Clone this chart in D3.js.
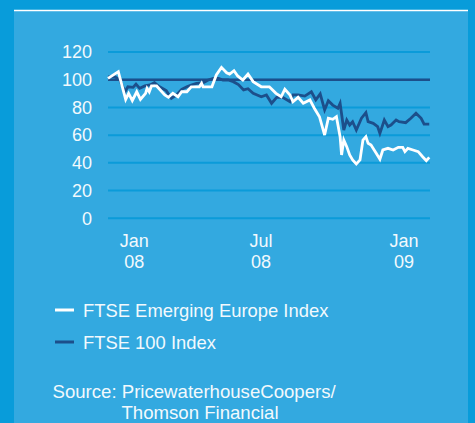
<!DOCTYPE html>
<html>
<head>
<meta charset="utf-8">
<script src="https://cdn.jsdelivr.net/npm/d3@7"></script>
<style>
  html, body { margin: 0; padding: 0; background: #089cda; }
  #chart { width: 475px; height: 423px; }
</style>
</head>
<body>
<div id="chart"></div>
<script>
// DATA (rebased index)
const eeDates = [
  '2007-12-11', '2007-12-25', '2008-01-04', '2008-01-08', '2008-01-13', '2008-01-19', '2008-01-24', '2008-01-31',
  '2008-02-02', '2008-02-05', '2008-02-08', '2008-02-15', '2008-02-26', '2008-03-02', '2008-03-08', '2008-03-15',
  '2008-03-20', '2008-03-27', '2008-04-02', '2008-04-13', '2008-04-16', '2008-04-18', '2008-04-30', '2008-05-06',
  '2008-05-13', '2008-05-20', '2008-05-24', '2008-05-30', '2008-06-04', '2008-06-11', '2008-06-18', '2008-06-25',
  '2008-07-06', '2008-07-17', '2008-07-26', '2008-08-02', '2008-08-07', '2008-08-14', '2008-08-18', '2008-08-25',
  '2008-09-01', '2008-09-10', '2008-09-16', '2008-09-23', '2008-09-30', '2008-10-05', '2008-10-11', '2008-10-16',
  '2008-10-21', '2008-10-23', '2008-10-26', '2008-10-30', '2008-11-03', '2008-11-07', '2008-11-12', '2008-11-17',
  '2008-11-21', '2008-11-25', '2008-11-28', '2008-12-02', '2008-12-09', '2008-12-14', '2008-12-18', '2008-12-25',
  '2009-01-01', '2009-01-08', '2009-01-14', '2009-01-17', '2009-01-21', '2009-01-28', '2009-02-04', '2009-02-10',
  '2009-02-15', '2009-02-19'
];
const eeValues = [
  101, 105.8, 85.8, 90.2, 84.9, 91.3, 85.8, 90.2,
  93.8, 91.3, 95.5, 95.5, 89, 87.3, 90.2, 87.7,
  91.3, 91.3, 94.9, 94.9, 97.4, 94.9, 94.9, 103.4,
  108.9, 105, 104.1, 106.5, 102.7, 99.8, 104.1, 98.6,
  94.9, 94.9, 90.2, 87.7, 93.1, 89, 84.1, 87.3,
  83, 85.4, 79.4, 73.3, 60.1, 72.2, 71.4, 73.3,
  58.9, 45.7, 56.5, 51.7, 45.7, 42.1, 39.2, 42.1,
  56.5, 58.9, 54.1, 52.9, 46.9, 42.6, 49.3, 50.5,
  49.3, 51.2, 51.2, 48.1, 50.5, 49.3, 48.1, 44.4,
  41.6, 44
];

const ftseDates = [
  '2007-12-11', '2007-12-20', '2007-12-27', '2008-01-03', '2008-01-07', '2008-01-14', '2008-01-18', '2008-01-23',
  '2008-01-30', '2008-02-06', '2008-02-12', '2008-02-19', '2008-02-28', '2008-03-06', '2008-03-13', '2008-03-20',
  '2008-03-27', '2008-04-02', '2008-04-09', '2008-04-18', '2008-04-25', '2008-05-02', '2008-05-09', '2008-05-15',
  '2008-05-22', '2008-05-29', '2008-06-05', '2008-06-12', '2008-06-18', '2008-06-25', '2008-07-06', '2008-07-13',
  '2008-07-20', '2008-07-27', '2008-08-04', '2008-08-14', '2008-08-18', '2008-08-25', '2008-09-03', '2008-09-12',
  '2008-09-18', '2008-09-24', '2008-09-30', '2008-10-05', '2008-10-11', '2008-10-18', '2008-10-21', '2008-10-26',
  '2008-10-30', '2008-11-03', '2008-11-07', '2008-11-12', '2008-11-19', '2008-11-25', '2008-11-28', '2008-12-05',
  '2008-12-11', '2008-12-14', '2008-12-20', '2008-12-25', '2008-12-29', '2009-01-05', '2009-01-09', '2009-01-18',
  '2009-01-25', '2009-02-01', '2009-02-08', '2009-02-12', '2009-02-19'
];
const ftseValues = [
  102, 102.2, 99.8, 91.3, 94.9, 94.5, 96.9, 93.8,
  95.5, 96.2, 97.8, 94.9, 92.1, 86.6, 89, 93.1,
  94.9, 96.2, 97.4, 97.8, 99.8, 101, 101, 99.8,
  99.8, 98.6, 96.5, 92.6, 93.5, 90.2, 87.7, 89,
  83, 87.3, 87.3, 84.1, 89, 89, 88.2, 91.3,
  85.4, 89.7, 78.2, 84.9, 81.7, 79.4, 83, 63.7,
  70.9, 67.3, 69.7, 63.7, 72.2, 76.2, 69.7, 68.5,
  66.1, 61.3, 70.9, 66.1, 67.3, 70.9, 69.7, 69,
  72.2, 75.8, 72.2, 68, 68
];

const baseValue = 100;
const yTicks = [0, 20, 40, 60, 80, 100, 120];
const xTickDates = ['2008-01-15', '2008-07-05', '2009-01-15'];
const xTickLabels = [['Jan', '08'], ['Jul', '08'], ['Jan', '09']];
const legendLabels = ['FTSE Emerging Europe Index', 'FTSE 100 Index'];
const sourceLines = ['Source: PricewaterhouseCoopers/', 'Thomson Financial'];

// COLOURS / FONT
const bgOuter = '#089cda';
const bgPanel = '#33a9e0';
const gridCol = '#0b9bd9';
const navy = '#1c4f8b';
const txtCol = '#f2f9fd';
const font = '"Liberation Sans", Arial, Helvetica, sans-serif';

const W = 475, H = 423;
const m = { top: 52, right: 45, bottom: 205, left: 108 };
const parse = d3.timeParse('%Y-%m-%d');

const ee = eeDates.map((d, i) => ({ date: parse(d), val: eeValues[i] }));
const ftse = ftseDates.map((d, i) => ({ date: parse(d), val: ftseValues[i] }));

const svg = d3.select('#chart')
  .append('svg')
  .attr('width', W)
  .attr('height', H)
  .style('font-family', font);

// BACKGROUND
svg.append('rect').attr('width', W).attr('height', H).attr('fill', bgOuter);
svg.append('rect').attr('x', 14).attr('y', 10).attr('width', 454).attr('height', H - 10).attr('fill', bgPanel);
svg.append('line')
  .attr('x1', 14).attr('x2', 468).attr('y1', 10.5).attr('y2', 10.5)
  .attr('stroke', '#ffffff').attr('stroke-width', 1.5);

// SCALES
const xScale = d3.scaleTime()
  .domain([parse('2007-12-11'), parse('2009-02-20')])
  .range([m.left, W - m.right]);

const yScale = d3.scaleLinear()
  .domain([0, 120])
  .range([218.3, m.top]);

// GRIDLINES
svg.append('g')
  .selectAll('line')
  .data(yTicks)
  .enter()
  .append('line')
  .attr('x1', xScale.range()[0])
  .attr('x2', xScale.range()[1])
  .attr('y1', (d) => yScale(d))
  .attr('y2', (d) => yScale(d))
  .attr('stroke', gridCol)
  .attr('stroke-width', 2);

// BASE LINE AT 100
svg.append('line')
  .attr('x1', xScale.range()[0])
  .attr('x2', xScale.range()[1])
  .attr('y1', yScale(baseValue))
  .attr('y2', yScale(baseValue))
  .attr('stroke', navy)
  .attr('stroke-width', 2.5);

// Y AXIS
const yAxis = svg.append('g')
  .attr('transform', `translate(${m.left},0)`)
  .call(d3.axisLeft(yScale).tickValues(yTicks).tickSize(0).tickPadding(16));
yAxis.select('.domain').remove();
yAxis.selectAll('text')
  .attr('fill', txtCol)
  .style('font-family', font)
  .style('font-size', '18px');

// X AXIS
const xAxis = svg.append('g')
  .attr('transform', `translate(0,${yScale(0)})`)
  .call(d3.axisBottom(xScale).tickValues(xTickDates.map(parse)).tickSize(0).tickFormat(() => ''));
xAxis.select('.domain').remove();
xAxis.selectAll('.tick text').remove();
xAxis.selectAll('.tick')
  .append('text')
  .attr('fill', txtCol)
  .attr('text-anchor', 'middle')
  .style('font-family', font)
  .style('font-size', '18px')
  .each(function (_, i) {
    const t = d3.select(this);
    t.append('tspan').attr('x', 0).attr('y', 28.5).text(xTickLabels[i][0]);
    t.append('tspan').attr('x', 0).attr('y', 50).text(xTickLabels[i][1]);
  });

// LINES
const line = d3.line()
  .x((d) => xScale(d.date))
  .y((d) => yScale(d.val));

svg.append('path')
  .datum(ftse)
  .attr('fill', 'none')
  .attr('stroke', navy)
  .attr('stroke-width', 2.8)
  .attr('stroke-linejoin', 'miter')
  .attr('d', line);

svg.append('path')
  .datum(ee)
  .attr('fill', 'none')
  .attr('stroke', '#ffffff')
  .attr('stroke-width', 2.8)
  .attr('stroke-linejoin', 'miter')
  .attr('d', line);

// LEGEND
const legCols = ['#ffffff', navy];
const legend = svg.append('g')
  .selectAll('g')
  .data(legendLabels)
  .enter()
  .append('g')
  .attr('transform', (_, i) => `translate(0,${310 + i * 32})`);

legend.append('line')
  .attr('x1', 55).attr('x2', 74)
  .attr('stroke', (_, i) => legCols[i])
  .attr('stroke-width', 3);

legend.append('text')
  .attr('x', 83)
  .attr('y', 7)
  .attr('fill', txtCol)
  .style('font-size', '18.4px')
  .text((d) => d);

// SOURCE
svg.append('g')
  .selectAll('text')
  .data(sourceLines)
  .enter()
  .append('text')
  .attr('x', (_, i) => (i === 0 ? 52.5 : 121.5))
  .attr('y', (_, i) => 397.5 + i * 21)
  .attr('fill', txtCol)
  .style('font-size', '18.6px')
  .text((d) => d);
</script>
</body>
</html>
